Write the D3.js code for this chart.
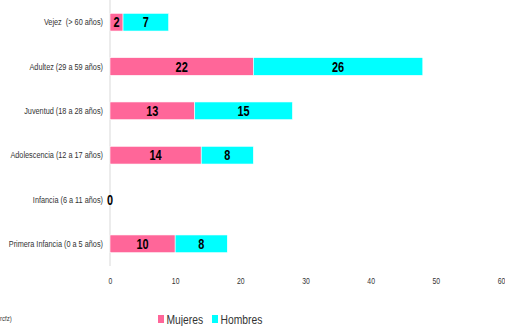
<!DOCTYPE html>
<html><head><meta charset="utf-8">
<script src="https://cdn.jsdelivr.net/npm/d3@7"></script>
<style>body{margin:0;background:#fff}svg{display:block}text{white-space:pre}</style>
</head><body><svg id="c" width="505" height="326"></svg>
<script>
const categories = ["Vejez  (> 60 años)","Adultez (29 a 59 años)","Juventud (18 a 28 años)","Adolescencia (12 a 17 años)","Infancia (6 a 11 años)","Primera Infancia (0 a 5 años)"];
const mujeres = [2,22,13,14,0,10];
const hombres = [7,26,15,8,0,8];
const seriesNames = ["Mujeres","Hombres"];
const colors = ["#ff6699","#00ffff"];
const xTicks = [0,10,20,30,40,50,60];

const font = "'Liberation Sans',Arial,sans-serif";
const svg = d3.select("#c");
const x = d3.scaleLinear().domain([0,60]).range([110,501]);
const y = d3.scaleBand().domain(categories).range([0,266]).paddingInner(0.6).paddingOuter(0.3);

svg.append("line").attr("x1",x(0)).attr("x2",x(0)).attr("y1",0).attr("y2",266)
  .attr("stroke","#d9d9d9").attr("stroke-width",1);

function valLabel(g, px, py, v){
  g.append("text").attr("transform",`translate(${px},${py}) scale(0.78,1)`)
    .attr("dy","0.36em").attr("text-anchor","middle")
    .attr("font-family",font).attr("font-weight","bold").attr("font-size",14).attr("fill","#000").text(v);
}

const data = categories.map((c,i)=>({c, m:mujeres[i], h:hombres[i]}));
const g = svg.append("g");
data.forEach(d=>{
  if(d.m>0) g.append("rect").attr("x",x(0)).attr("y",y(d.c)).attr("width",x(d.m)-x(0)).attr("height",y.bandwidth())
    .attr("fill",colors[0]).attr("stroke","#fff").attr("stroke-width",0.6);
  if(d.h>0) g.append("rect").attr("x",x(d.m)).attr("y",y(d.c)).attr("width",x(d.m+d.h)-x(d.m)).attr("height",y.bandwidth())
    .attr("fill",colors[1]).attr("stroke","#fff").attr("stroke-width",0.6);
  const cy = y(d.c)+y.bandwidth()/2;
  if(d.m+d.h===0){
    valLabel(g, x(0), cy, d.m);
  } else {
    valLabel(g, (x(0)+x(d.m))/2, cy, d.m);
    valLabel(g, (x(d.m)+x(d.m+d.h))/2, cy, d.h);
  }
});

const yAxis = svg.append("g").attr("transform",`translate(${x(0)-7},0)`)
  .call(d3.axisLeft(y).tickSize(0).tickPadding(0));
yAxis.select(".domain").remove();
yAxis.selectAll("text").attr("font-family",font).attr("font-size",9.5).attr("fill","#333")
  .attr("transform","scale(0.77,1)");

const xAxis = svg.append("g").attr("transform","translate(0,277)")
  .call(d3.axisBottom(x).tickValues(xTicks).tickSize(0).tickPadding(0));
xAxis.select(".domain").remove();
xAxis.selectAll("text").attr("font-family",font).attr("font-size",9.5).attr("fill","#333")
  .attr("transform","scale(0.72,1)");

svg.append("text").attr("transform","translate(0,321) scale(0.75,1)").attr("font-family",font).attr("font-size",8).attr("fill","#333").text("rcfz)");

const leg = svg.append("g").attr("transform","translate(158,324)");
const legX = [0,54];
seriesNames.forEach((n,i)=>{
  leg.append("rect").attr("x",legX[i]).attr("y",-9).attr("width",6).attr("height",8).attr("fill",colors[i]);
  leg.append("text").attr("transform",`translate(${legX[i]+8.5},0) scale(0.86,1)`)
    .attr("font-family",font).attr("font-size",12).attr("fill","#333").text(n);
});
</script></body></html>
